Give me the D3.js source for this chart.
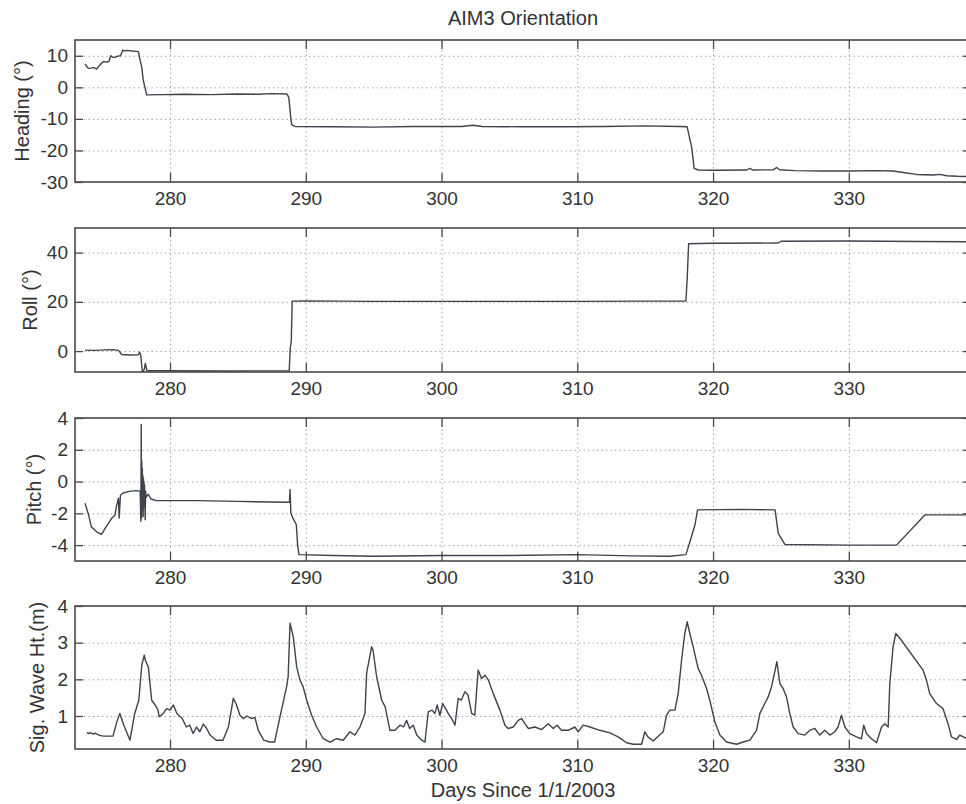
<!DOCTYPE html>
<html>
<head>
<meta charset="utf-8">
<script src="https://cdn.jsdelivr.net/npm/d3@7/dist/d3.min.js"></script>
<style>
  html, body { margin: 0; padding: 0; background: #fff; }
  svg { display: block; }
  text { font-family: "Liberation Sans", Arial, Helvetica, sans-serif; fill: #333; }
</style>
</head>
<body>
<svg id="chart" width="966" height="804"></svg>
<script>
// Time axis (days since 1/1/2003)
const dayDomain = [273, 339];
const dayTicks = [280, 290, 300, 310, 320, 330];

// Heading (deg)
const headingTicks = [10, 0, -10, -20, -30];
const heading = [
  [273.74, 7.4], [273.9, 6.4], [274.0, 6.0], [274.2, 6.1], [274.35, 6.3], [274.6, 5.8],
  [274.85, 7.2], [275.1, 8.2], [275.3, 8.0], [275.5, 8.2], [275.63, 10.0], [275.75, 9.6],
  [275.95, 9.5], [276.15, 9.9], [276.35, 10.0], [276.52, 11.8], [276.65, 11.5], [276.85, 11.7],
  [277.2, 11.5], [277.67, 11.3], [277.8, 8.5], [277.92, 6.3], [278.02, 2.5], [278.12, 0.5],
  [278.28, -2.4], [279.5, -2.3], [281.0, -2.2], [283.0, -2.3], [285.0, -2.1], [286.5, -2.2],
  [287.5, -2.0], [288.6, -2.1], [288.75, -3.2], [288.9, -10.0], [288.96, -11.8], [289.2, -12.4],
  [292.0, -12.5], [295.0, -12.6], [298.0, -12.4], [301.5, -12.4], [302.3, -12.0], [303.0, -12.4],
  [306.0, -12.5], [309.0, -12.5], [312.0, -12.4], [315.0, -12.2], [317.5, -12.4], [318.09, -12.5],
  [318.42, -18.9], [318.61, -25.7], [318.9, -26.2], [320.0, -26.3], [322.5, -26.2], [322.71, -25.7],
  [322.9, -26.2], [324.45, -26.1], [324.68, -25.4], [324.9, -26.1], [326.0, -26.4], [328.0, -26.5],
  [330.0, -26.5], [332.0, -26.4], [333.26, -26.5], [334.0, -27.0], [334.98, -27.6], [336.2, -27.8],
  [336.7, -27.6], [337.2, -28.0], [338.0, -28.2], [339.0, -28.3]
];

// Roll (deg)
const rollTicks = [40, 20, 0];
const roll = [
  [273.74, 0.4], [274.5, 0.3], [275.2, 0.5], [275.8, 0.6], [276.2, 0.3], [276.45, -1.4],
  [277.0, -1.6], [277.67, -1.5], [277.76, -0.4], [277.84, -1.6], [277.96, -8.4], [278.1, -7.5],
  [278.18, -5.0], [278.3, -8.0], [280.0, -8.0], [284.0, -8.1], [288.78, -8.0], [288.85, 1.0],
  [288.93, 4.0], [289.0, 20.3], [290.0, 20.4], [295.0, 20.2], [300.0, 20.2], [305.0, 20.2],
  [310.0, 20.2], [315.0, 20.3], [318.0, 20.3], [318.1, 30.0], [318.2, 43.6], [320.0, 43.8],
  [324.8, 43.9], [325.0, 44.6], [330.0, 44.7], [335.0, 44.5], [339.0, 44.4]
];

// Pitch (deg)
const pitchTicks = [4, 2, 0, -2, -4];
const pitch = [
  [273.74, -1.36], [274.0, -2.1], [274.2, -2.84], [274.6, -3.16], [274.95, -3.32], [275.3, -2.84],
  [275.7, -2.31], [275.95, -2.1], [276.05, -1.57], [276.2, -1.04], [276.25, -2.3], [276.35, -0.85],
  [276.55, -0.72], [277.0, -0.62], [277.5, -0.57], [277.8, -0.6], [277.85, -2.5], [277.88, 3.6],
  [277.9, -2.3], [277.92, 1.3], [277.94, -1.8], [277.96, 0.8], [277.98, -1.2], [278.0, 0.4],
  [278.02, -2.2], [278.04, 0.2], [278.06, -1.0], [278.08, 0.0], [278.1, -1.6], [278.12, -0.2],
  [278.14, -0.9], [278.17, -2.4], [278.2, -0.6], [278.24, -1.0], [278.3, -0.9], [278.4, -0.8],
  [278.6, -1.1], [279.0, -1.2], [282.0, -1.2], [285.0, -1.25], [288.6, -1.3], [288.8, -1.3],
  [288.84, -0.5], [288.9, -2.0], [289.05, -2.3], [289.3, -2.7], [289.4, -4.0], [289.5, -4.6],
  [292.0, -4.65], [295.0, -4.7], [300.0, -4.65], [305.0, -4.65], [310.0, -4.6], [314.0, -4.68],
  [316.8, -4.7], [318.0, -4.6], [318.29, -3.8], [318.66, -2.75], [318.86, -1.78], [322.0, -1.75],
  [324.57, -1.78], [324.8, -3.26], [325.29, -3.96], [330.0, -4.0], [333.51, -4.0], [335.6, -2.1],
  [339.0, -2.1]
];

// Significant wave height (m)
const waveTicks = [4, 3, 2, 1];
const wave = [
  [273.87, 0.55], [274.0, 0.52], [274.1, 0.55], [274.3, 0.51], [274.5, 0.53], [274.8, 0.47],
  [275.1, 0.45], [275.8, 0.45], [276.08, 0.84], [276.3, 1.07], [276.6, 0.75], [277.05, 0.34],
  [277.4, 1.07], [277.7, 1.43], [277.92, 2.39], [278.1, 2.66], [278.2, 2.5], [278.4, 2.34],
  [278.65, 1.43], [278.9, 1.3], [279.1, 1.18], [279.2, 0.98], [279.5, 1.07], [279.75, 1.2],
  [280.0, 1.16], [280.25, 1.3], [280.5, 1.07], [280.9, 0.93], [281.2, 0.7], [281.45, 0.75],
  [281.7, 0.52], [281.95, 0.7], [282.2, 0.57], [282.45, 0.78], [282.7, 0.66], [282.95, 0.48],
  [283.4, 0.34], [283.9, 0.34], [284.3, 0.7], [284.66, 1.48], [284.9, 1.3], [285.15, 1.02],
  [285.4, 0.93], [285.65, 1.0], [286.0, 0.93], [286.25, 0.96], [286.5, 0.61], [286.9, 0.34],
  [287.35, 0.29], [287.7, 0.29], [288.1, 0.98], [288.59, 1.8], [288.7, 2.07], [288.84, 3.53],
  [289.08, 3.16], [289.33, 2.34], [289.57, 1.98], [289.8, 1.8], [290.07, 1.43], [290.43, 1.02],
  [290.8, 0.7], [291.29, 0.38], [291.78, 0.29], [292.28, 0.38], [292.76, 0.34], [293.25, 0.57],
  [293.62, 0.48], [293.99, 0.7], [294.36, 1.07], [294.48, 2.16], [294.85, 2.89], [294.95, 2.8],
  [295.22, 2.07], [295.59, 1.43], [295.85, 1.25], [296.2, 0.61], [296.57, 0.61], [296.94, 0.75],
  [297.2, 0.7], [297.43, 0.88], [297.65, 0.66], [297.92, 0.75], [298.17, 0.48], [298.54, 0.34],
  [298.78, 0.29], [299.02, 1.11], [299.3, 1.16], [299.51, 1.07], [299.68, 1.3], [299.88, 1.02],
  [300.08, 1.34], [300.3, 1.2], [300.49, 1.07], [300.75, 0.93], [300.99, 0.75], [301.23, 1.48],
  [301.45, 1.43], [301.72, 1.66], [301.95, 1.57], [302.22, 1.07], [302.45, 1.02], [302.7, 2.25],
  [302.95, 2.02], [303.2, 2.11], [303.45, 1.98], [303.81, 1.61], [304.3, 1.16], [304.67, 0.75],
  [304.9, 0.66], [305.28, 0.7], [305.65, 0.88], [305.9, 0.93], [306.14, 0.79], [306.4, 0.66],
  [306.88, 0.7], [307.37, 0.63], [307.86, 0.79], [308.23, 0.66], [308.5, 0.75], [308.84, 0.61],
  [309.33, 0.61], [309.82, 0.7], [310.07, 0.57], [310.43, 0.75], [310.93, 0.7], [311.66, 0.61],
  [312.4, 0.54], [313.01, 0.43], [313.63, 0.27], [314.12, 0.23], [314.73, 0.23], [314.98, 0.57],
  [315.2, 0.43], [315.59, 0.32], [315.96, 0.45], [316.33, 0.57], [316.57, 1.02], [316.82, 1.16],
  [317.19, 1.16], [317.43, 1.61], [317.68, 2.52], [317.92, 3.25], [318.09, 3.57], [318.29, 3.25],
  [318.53, 2.89], [318.9, 2.3], [319.15, 2.11], [319.52, 1.75], [319.76, 1.43], [320.13, 0.84],
  [320.5, 0.48], [320.99, 0.29], [321.73, 0.23], [322.22, 0.29], [322.71, 0.34], [323.2, 0.61],
  [323.45, 1.07], [323.81, 1.34], [324.06, 1.52], [324.31, 1.8], [324.62, 2.34], [324.7, 2.48],
  [324.92, 1.89], [325.16, 1.75], [325.41, 1.52], [325.65, 1.07], [325.9, 0.7], [326.27, 0.52],
  [326.76, 0.48], [327.13, 0.61], [327.5, 0.66], [327.86, 0.48], [328.23, 0.61], [328.6, 0.48],
  [328.97, 0.57], [329.21, 0.7], [329.46, 1.02], [329.71, 0.7], [330.07, 0.52], [330.57, 0.43],
  [330.93, 0.38], [331.1, 0.75], [331.3, 0.52], [331.67, 0.38], [332.04, 0.27], [332.41, 0.7],
  [332.65, 0.79], [332.9, 0.7], [333.02, 1.89], [333.26, 2.89], [333.46, 3.25], [333.76, 3.12],
  [335.47, 2.25], [335.72, 1.98], [335.96, 1.61], [336.46, 1.34], [336.94, 1.2], [337.31, 0.79],
  [337.56, 0.43], [337.93, 0.36], [338.17, 0.48], [338.54, 0.41], [339.0, 0.4]
];

const svg = d3.select("#chart");
const left = 75, right = 971;

const panels = [
  { data: heading, domain: [-30, 15],  ticks: headingTicks, label: "Heading (°)",      top: 40,  bottom: 182, labelX: 29 },
  { data: roll,    domain: [-8.5, 50], ticks: rollTicks,    label: "Roll (°)",         top: 228, bottom: 372, labelX: 37 },
  { data: pitch,   domain: [-5, 4],    ticks: pitchTicks,   label: "Pitch (°)",        top: 418, bottom: 561, labelX: 41 },
  { data: wave,    domain: [0.1, 4],   ticks: waveTicks,    label: "Sig. Wave Ht.(m)", top: 606, bottom: 749, labelX: 44 }
];

const x = d3.scaleLinear().domain(dayDomain).range([left, right]);
// plain hyphen for negative tick labels
const fmt = d => String(d);

const axisColor = "#4a4a4a";
const lineColor = "#3e434c";
const gridColor = "#9a9a9a";

panels.forEach((p) => {
  const h = p.bottom - p.top;
  const y = d3.scaleLinear().domain(p.domain).range([p.bottom, p.top]);
  const g = svg.append("g");

  // dotted grid
  const gx = g.append("g").attr("transform", `translate(0,${p.bottom})`)
    .call(d3.axisBottom(x).tickValues(dayTicks).tickSize(-h).tickFormat(""));
  const gy = g.append("g").attr("transform", `translate(${left},0)`)
    .call(d3.axisLeft(y).tickValues(p.ticks).tickSize(-(right - left)).tickFormat(""));
  [gx, gy].forEach(a => {
    a.select(".domain").remove();
    a.selectAll(".tick line")
      .attr("stroke", gridColor).attr("stroke-width", 1)
      .attr("stroke-dasharray", "1.3,3.2");
  });

  // series line
  const line = d3.line().x(d => x(d[0])).y(d => y(d[1]));
  g.append("path").datum(p.data)
    .attr("d", line)
    .attr("fill", "none")
    .attr("stroke", lineColor)
    .attr("stroke-width", 1.4)
    .attr("stroke-linejoin", "round");

  // axes with inward ticks on all four sides
  const ax = [
    g.append("g").attr("transform", `translate(0,${p.bottom})`)
      .call(d3.axisBottom(x).tickValues(dayTicks).tickSize(-9).tickPadding(10).tickFormat(fmt)),
    g.append("g").attr("transform", `translate(0,${p.top})`)
      .call(d3.axisTop(x).tickValues(dayTicks).tickSize(-9).tickFormat("")),
    g.append("g").attr("transform", `translate(${left},0)`)
      .call(d3.axisLeft(y).tickValues(p.ticks).tickSize(-8).tickPadding(7).tickFormat(fmt)),
    g.append("g").attr("transform", `translate(${right},0)`)
      .call(d3.axisRight(y).tickValues(p.ticks).tickSize(-8).tickFormat(""))
  ];
  ax.forEach(a => {
    a.select(".domain").remove();
    a.selectAll(".tick line").attr("stroke", axisColor).attr("stroke-width", 1.3);
    a.selectAll(".tick text")
      .attr("font-size", 19)
      .attr("font-family", '"Liberation Sans", Arial, Helvetica, sans-serif')
      .attr("fill", "#333");
  });

  // axes box
  g.append("rect")
    .attr("x", left).attr("y", p.top)
    .attr("width", right - left).attr("height", h)
    .attr("fill", "none")
    .attr("stroke", axisColor)
    .attr("stroke-width", 1.6);

  // y label
  svg.append("text")
    .attr("transform", `translate(${p.labelX},${(p.top + p.bottom) / 2}) rotate(-90)`)
    .attr("text-anchor", "middle")
    .attr("font-size", 20)
    .text(p.label);
});

// title and x label
const cx = (left + right) / 2;
svg.append("text")
  .attr("x", cx).attr("y", 25)
  .attr("text-anchor", "middle")
  .attr("font-size", 20)
  .text("AIM3 Orientation");

svg.append("text")
  .attr("x", cx).attr("y", 797)
  .attr("text-anchor", "middle")
  .attr("font-size", 20)
  .text("Days Since 1/1/2003");
</script>
</body>
</html>
